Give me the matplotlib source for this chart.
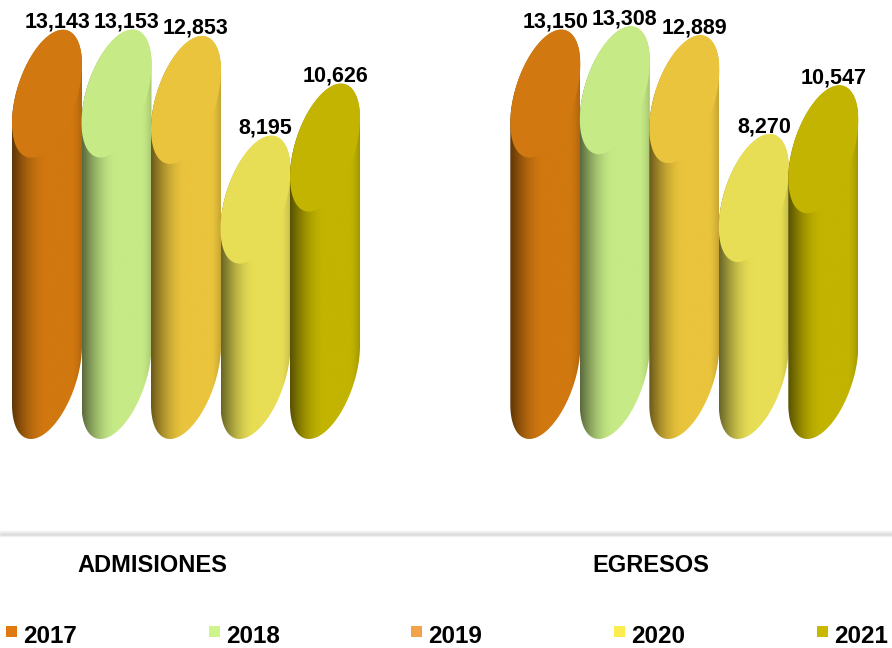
import numpy as np
import matplotlib
matplotlib.use('Agg')
import matplotlib.pyplot as plt
from matplotlib.patches import Polygon, PathPatch, Rectangle
from matplotlib.path import Path
from matplotlib.transforms import IdentityTransform, blended_transform_factory
from matplotlib.colors import to_rgb
from matplotlib.lines import Line2D

# ---------------- data ----------------
years = ['2017', '2018', '2019', '2020', '2021']
groups = ['ADMISIONES', 'EGRESOS']
admisiones = [13143, 13153, 12853, 8195, 10626]
egresos = [13150, 13308, 12889, 8270, 10547]
series = [admisiones, egresos]
top_colors = ['#D17810', '#C6EA86', '#EAC43C', '#E8DE55', '#C2B400']
legend_colors = ['#E07A10', '#CEF58C', '#F2A248', '#FBEC50', '#C8B800']

plt.rcParams['font.family'] = ['Liberation Sans', 'DejaVu Sans']

W, H = 892, 648
fig = plt.figure(figsize=(W / 100, H / 100), dpi=100)
ax = fig.add_axes([0, 0, 1, 1])
ax.set_axis_off()
ax.set_autoscale_on(False)

# layout of the axes (pixels)
step_px = 69.5      # pixels per category step
x0_px = 47          # pixel position of first category centre
scale = 0.0214      # pixels per unit of value
base_px = 375       # pixel row (from top) of value 0
group_gap = 7.17    # category steps between the two groups
ax.set_xlim(-x0_px / step_px, (W - x0_px) / step_px)
ax.set_ylim(-(H - base_px) / scale, base_px / scale)

# cylinder cross-section: tilted ellipse = affine image of unit circle
hw, sh, hv = 35.0, 29.26, 56.9
t = np.linspace(0, 2 * np.pi, 241)


def ell(cx, cy, t):
    return np.column_stack([cx + hw * np.cos(t), cy + sh * np.cos(t) + hv * np.sin(t)])


u = np.linspace(0, 1, 256)
g = np.clip(u / 0.5, 0, 1)
shade = 0.45 + 0.55 * np.sin(g * np.pi / 2)
edge = 1 - 0.16 * np.clip((u - 0.86) / 0.14, 0, 1) ** 1.5
fac = shade * edge

ident = IdentityTransform()
for gi, vals in enumerate(series):
    for i, v in enumerate(vals):
        xd = gi * group_gap + i
        cx, ty = ax.transData.transform((xd, v))
        _, by = ax.transData.transform((xd, 0))
        z = 2 + i * 3
        # body hull
        top_arc = ell(cx, ty, np.linspace(0, np.pi, 121))
        bot_arc = ell(cx, by, np.linspace(np.pi, 2 * np.pi, 121))
        verts = np.vstack([top_arc, bot_arc, top_arc[:1]])
        hull = PathPatch(Path(verts, closed=True), transform=ident,
                         facecolor='none', edgecolor='none')
        rgb = np.array(to_rgb(top_colors[i]))
        img = np.clip(rgb[None, None, :] * fac[None, :, None], 0, 1)
        im = ax.imshow(img, extent=(cx - hw, cx + hw, by - 70, ty + 70),
                       transform=ident, aspect='auto', zorder=z,
                       interpolation='bilinear')
        im.set_clip_path(hull)
        # top face
        top = Polygon(ell(cx, ty, t), closed=True, transform=ident,
                      facecolor=top_colors[i], edgecolor='none', zorder=z + 1)
        ax.add_patch(top)
        ax.annotate(f'{v:,}', xy=(xd, v), xytext=(10, 66),
                    textcoords='offset pixels', ha='center', va='baseline',
                    fontsize=15.5, fontweight='bold', color='black',
                    zorder=50, annotation_clip=False)

# separator line
yl = 1 - 534 / H
fig.add_artist(Line2D([0, 1], [yl, yl], transform=fig.transFigure,
                      color='#efefef', lw=4.5, solid_capstyle='butt'))
fig.add_artist(Line2D([0, 1], [yl, yl], transform=fig.transFigure,
                      color='#dedede', lw=2.0, solid_capstyle='butt'))

# group labels
btr = blended_transform_factory(ax.transData, fig.transFigure)
for gi, name in enumerate(groups):
    ax.text(gi * group_gap + 1.52, 1 - 572 / H, name, transform=btr,
            ha='center', va='baseline', fontsize=17, fontweight='bold')

# legend
for i, (yr, c) in enumerate(zip(years, legend_colors)):
    xs = 6 + i * 202.7
    fig.add_artist(Rectangle((xs / W, 1 - 637 / H), 11 / W, 11 / H,
                             transform=fig.transFigure, facecolor=c,
                             edgecolor='none'))
    fig.text((xs + 17) / W, 1 - 643 / H, yr, ha='left', va='baseline',
             fontsize=17.5, fontweight='bold')

fig.savefig('out.png', dpi=100)
